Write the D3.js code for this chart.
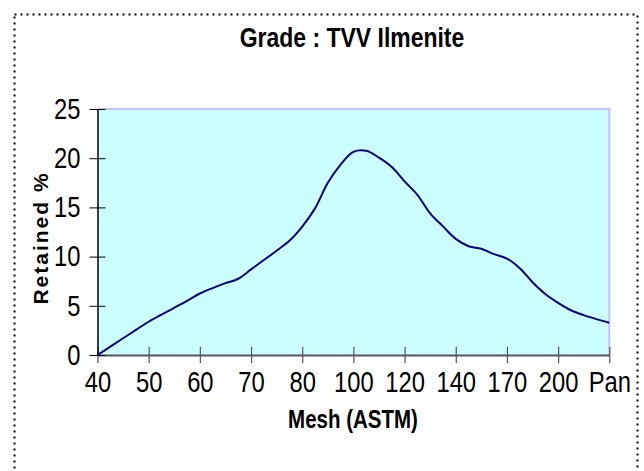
<!DOCTYPE html>
<html>
<head>
<meta charset="utf-8">
<script src="https://cdn.jsdelivr.net/npm/d3@7"></script>
<style>
  html, body { margin: 0; padding: 0; background: #fff; }
  svg { display: block; }
</style>
</head>
<body>
<svg id="chart" width="644" height="471"></svg>
<script>
// ---- data ----
const title = "Grade : TVV Ilmenite";
const xTitle = "Mesh (ASTM)";
const yTitle = "Retained %";
const meshLabels = ["40", "50", "60", "70", "80", "100", "120", "140", "170", "200", "Pan"];
const stepsPerLabel = 4;
const retained = [
  0, 0.85, 1.7, 2.55, 3.38, 4.1, 4.8, 5.5,
  6.25, 6.8, 7.3, 7.75, 8.7, 9.65, 10.6, 11.6,
  13.05, 14.9, 17.5, 19.35, 20.65, 20.75, 20.05, 19.1,
  17.65, 16.27, 14.4, 13.07, 11.8, 11.05, 10.8, 10.25,
  9.8, 8.82, 7.4, 6.2, 5.3, 4.55, 4.05, 3.65,
  3.28
];
const yTicks = [0, 5, 10, 15, 20, 25];

// ---- layout ----
const W = 644, H = 471;
const plot = { left: 97.5, right: 609.3, top: 109, bottom: 355 };
const sans = "'Liberation Sans', Arial, sans-serif";
const NARROW = 0.82; // Arial Narrow ~ 82% width of Arial

const svg = d3.select("#chart");
svg.append("rect").attr("width", W).attr("height", H).attr("fill", "#fff");

// dotted outer border
svg.append("rect")
  .attr("x", 14.5).attr("y", 14.5)
  .attr("width", 623).attr("height", 480)
  .attr("fill", "none").attr("stroke", "#000")
  .attr("stroke-width", 2).attr("stroke-dasharray", "2 4");

const x = d3.scaleLinear().domain([0, retained.length - 1]).range([plot.left, plot.right]);
const y = d3.scaleLinear().domain([0, 25]).range([plot.bottom, plot.top]);

// plot area
svg.append("rect")
  .attr("x", plot.left).attr("y", plot.top)
  .attr("width", plot.right - plot.left).attr("height", plot.bottom - plot.top)
  .attr("fill", "#CCFFFF");
svg.append("path")
  .attr("d", `M${plot.left},${plot.top}H${plot.right}V${plot.bottom}`)
  .attr("fill", "none").attr("stroke", "#C4C4F4").attr("stroke-width", 2);

// x axis
const labelIdx = meshLabels.map((d, i) => i * stepsPerLabel);
const xAxis = d3.axisBottom(x)
  .tickValues(labelIdx)
  .tickFormat((d, i) => meshLabels[i])
  .tickSizeOuter(0).tickSizeInner(8).tickPadding(8);
const gx = svg.append("g").attr("transform", `translate(0,${plot.bottom})`).call(xAxis);
gx.select(".domain").attr("stroke", "#555566").attr("stroke-width", 2);
gx.selectAll(".tick line").attr("y1", -8).attr("y2", 8).attr("stroke", "#555").attr("stroke-width", 1.2);
gx.selectAll(".tick text")
  .attr("font-family", sans).attr("font-size", 29).attr("fill", "#000")
  .attr("transform", `scale(${NARROW},1)`);

// y axis
const yAxis = d3.axisLeft(y)
  .tickValues(yTicks)
  .tickSizeOuter(0).tickSizeInner(8).tickPadding(8);
const gy = svg.append("g").attr("transform", `translate(${plot.left},0)`).call(yAxis);
gy.select(".domain").attr("stroke", "#000").attr("stroke-width", 1.5);
gy.selectAll(".tick line").attr("x1", -8).attr("x2", 8).attr("stroke", "#000").attr("stroke-width", 1);
gy.selectAll(".tick text")
  .attr("font-family", sans).attr("font-size", 29).attr("fill", "#000")
  .attr("x", -17 / NARROW)
  .attr("transform", `scale(${NARROW},1)`);

// line
const line = d3.line()
  .x((d, i) => x(i))
  .y(d => y(d))
  .curve(d3.curveCatmullRom.alpha(0.5));
svg.append("path")
  .datum(retained)
  .attr("d", line)
  .attr("fill", "none")
  .attr("stroke", "#000080")
  .attr("stroke-width", 2);

// titles
svg.append("text")
  .attr("transform", `translate(352,47) scale(${NARROW},1)`)
  .attr("text-anchor", "middle")
  .attr("font-family", sans).attr("font-weight", "bold").attr("font-size", 28)
  .text(title);
svg.append("text")
  .attr("transform", `translate(353,428) scale(${NARROW},1)`)
  .attr("text-anchor", "middle")
  .attr("font-family", sans).attr("font-weight", "bold").attr("font-size", 25)
  .text(xTitle);
svg.append("text")
  .attr("transform", `translate(48,238) rotate(-90)`)
  .attr("text-anchor", "middle")
  .attr("font-family", sans).attr("font-weight", "bold").attr("font-size", 21)
  .attr("letter-spacing", 2)
  .text(yTitle);
</script>
</body>
</html>
